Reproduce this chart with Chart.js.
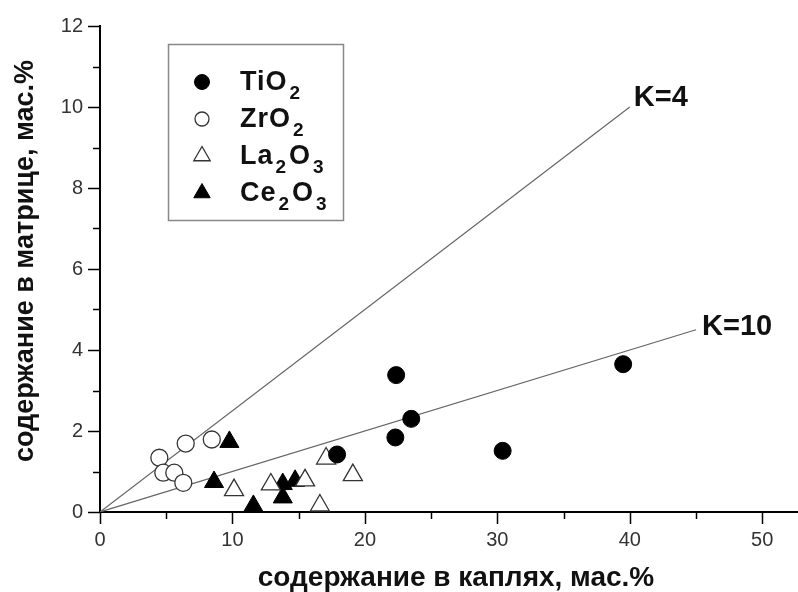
<!DOCTYPE html>
<html><head><meta charset="utf-8">
<script src="https://cdn.jsdelivr.net/npm/chart.js@4.4.1/dist/chart.umd.min.js"></script>
<style>html,body{margin:0;padding:0;background:#fff}#wrap{width:798px;height:592px}</style>
</head><body><div id="wrap"><canvas id="c" width="798" height="592"></canvas></div>
<script>
// ---- data ----
const seriesNames = ['TiO2', 'ZrO2', 'La2O3', 'Ce2O3'];
const tio2X = [17.9, 22.3, 22.36, 23.5, 30.4, 39.5];
const tio2Y = [1.42, 1.84, 3.38, 2.30, 1.51, 3.65];
const zro2X = [4.48, 4.78, 5.61, 6.29, 6.47, 8.44];
const zro2Y = [1.34, 0.97, 0.97, 0.72, 1.69, 1.79];
const la2o3X = [10.12, 12.9, 15.48, 17.07, 19.09, 16.6];
const la2o3Y = [0.54, 0.68, 0.78, 1.32, 0.91, 0.16];
const ce2o3X = [9.77, 8.61, 11.58, 13.8, 13.8, 14.73];
const ce2o3Y = [1.73, 0.74, 0.15, 0.69, 0.36, 0.77];
const kValues = [4, 10];
const kEndX = [40, 45];
const kLabels = ['K=4', 'K=10'];
const xTickLabels = ['0', '10', '20', '30', '40', '50'];
const yTickLabels = ['0', '2', '4', '6', '8', '10', '12'];
const xTitle = 'содержание в каплях, мас.%';
const yTitle = 'содержание в матрице, мас.%';

const FONT = "'Liberation Sans', Arial, sans-serif";
const pts = (xs, ys) => xs.map((x, i) => ({x: x, y: ys[i]}));

const styles = [
  {pointStyle: 'circle', radius: 8.5, bg: '#000', border: '#000', bw: 1, lr: 7.5},
  {pointStyle: 'circle', radius: 8.5, bg: '#fff', border: '#333', bw: 1.3, lr: 7},
  {pointStyle: 'triangle', radius: 11, bg: '#fff', border: '#333', bw: 1.3, lr: 9.5},
  {pointStyle: 'triangle', radius: 11, bg: '#000', border: '#000', bw: 1, lr: 9.5}
];
const seriesData = [pts(tio2X, tio2Y), pts(zro2X, zro2Y), pts(la2o3X, la2o3Y), pts(ce2o3X, ce2o3Y)];

const datasets = seriesNames.map((n, i) => ({
  type: 'scatter', label: n, data: seriesData[i],
  pointStyle: styles[i].pointStyle, pointRadius: styles[i].radius, pointHoverRadius: styles[i].radius,
  backgroundColor: styles[i].bg, borderColor: styles[i].border, borderWidth: styles[i].bw,
  _legendR: styles[i].lr
}));
kValues.forEach((k, i) => {
  datasets.push({
    type: 'line', label: kLabels[i], data: [{x: 0, y: 0}, {x: kEndX[i], y: kEndX[i] / k}],
    borderColor: '#666', borderWidth: 1.2, pointRadius: 0, fill: false, _isK: true
  });
});

const decoPlugin = {
  id: 'deco',
  afterDraw(chart) {
    const ctx = chart.ctx;
    const xs = chart.scales.x, ys = chart.scales.y;
    ctx.save();
    // tick marks
    ctx.strokeStyle = '#000';
    ctx.lineWidth = 1.5;
    for (let v = 0; v <= 50; v += 5) {
      const px = Math.round(xs.getPixelForValue(v)) + 0.5;
      const len = (v % 10 === 0) ? 12 : 7;
      ctx.beginPath(); ctx.moveTo(px, ys.bottom); ctx.lineTo(px, ys.bottom + len); ctx.stroke();
    }
    for (let v = 0; v <= 12; v += 1) {
      const py = Math.round(ys.getPixelForValue(v)) + 0.5;
      const len = (v % 2 === 0) ? 12 : 7;
      ctx.beginPath(); ctx.moveTo(xs.left, py); ctx.lineTo(xs.left - len, py); ctx.stroke();
    }
    // axis titles
    ctx.fillStyle = '#111';
    ctx.textAlign = 'center';
    ctx.textBaseline = 'alphabetic';
    ctx.font = 'bold 28px ' + FONT;
    ctx.fillText(xTitle, 456, 586);
    ctx.font = 'bold 27px ' + FONT;
    ctx.save();
    ctx.translate(33, 261);
    ctx.rotate(-Math.PI / 2);
    ctx.fillText(yTitle, 0, 0);
    ctx.restore();
    // K labels
    ctx.font = 'bold 29px ' + FONT;
    ctx.textAlign = 'left';
    const kOff = [[4, -1], [6, 5]];
    kValues.forEach((k, i) => {
      const px = xs.getPixelForValue(kEndX[i]);
      const py = ys.getPixelForValue(kEndX[i] / k);
      ctx.fillText(kLabels[i], px + kOff[i][0], py + kOff[i][1]);
    });
    // legend
    ctx.strokeStyle = '#888';
    ctx.lineWidth = 1.5;
    ctx.strokeRect(168.5, 44.5, 175, 176);
    const base = [90, 127, 164, 201];
    chart.data.datasets.forEach((ds, i) => {
      if (ds._isK) return;
      const my = base[i] - 8;
      ctx.fillStyle = ds.backgroundColor;
      ctx.strokeStyle = ds.borderColor;
      ctx.lineWidth = ds.borderWidth;
      Chart.helpers.drawPoint(ctx, {pointStyle: ds.pointStyle, radius: ds._legendR, rotation: 0, borderWidth: ds.borderWidth}, 202, my);
      let x = 240;
      ctx.fillStyle = '#111';
      ctx.letterSpacing = '1px';
      ds.label.split(/(\d+)/).filter(s => s.length).forEach(seg => {
        if (/^\d+$/.test(seg)) {
          ctx.font = 'bold 19px ' + FONT;
          x += 2;
          ctx.fillText(seg, x, base[i] + 9);
          x += ctx.measureText(seg).width + 2;
        } else {
          ctx.font = 'bold 27px ' + FONT;
          ctx.fillText(seg, x, base[i]);
          x += ctx.measureText(seg).width;
        }
      });
      ctx.letterSpacing = '0px';
    });
    ctx.restore();
  }
};

new Chart(document.getElementById('c'), {
  data: {datasets: datasets},
  options: {
    responsive: false, animation: false, devicePixelRatio: 1,
    layout: {autoPadding: false, padding: {left: 0, right: 0, top: 26, bottom: 0}},
    plugins: {legend: {display: false}, tooltip: {enabled: false}},
    scales: {
      x: {
        type: 'linear', min: 0, max: 52.7,
        afterBuildTicks: s => { s.ticks = xTickLabels.map(t => ({value: Number(t)})); },
        afterFit: s => { s.height = 80; s.paddingLeft = 0; s.paddingRight = 0; },
        ticks: {font: {size: 20, family: FONT}, color: '#333', padding: 16, maxRotation: 0, autoSkip: false,
          callback: v => String(v)},
        grid: {display: false, drawTicks: false},
        border: {display: true, color: '#000', width: 2}
      },
      y: {
        type: 'linear', min: 0, max: 12,
        afterBuildTicks: s => { s.ticks = yTickLabels.map(t => ({value: Number(t)})); },
        afterFit: s => { s.width = 100; s.paddingTop = 0; s.paddingBottom = 0; },
        ticks: {font: {size: 20, family: FONT}, color: '#333', padding: 17, autoSkip: false,
          callback: v => String(v)},
        grid: {display: false, drawTicks: false},
        border: {display: true, color: '#000', width: 2}
      }
    }
  },
  plugins: [decoPlugin]
});
</script>
</body></html>
